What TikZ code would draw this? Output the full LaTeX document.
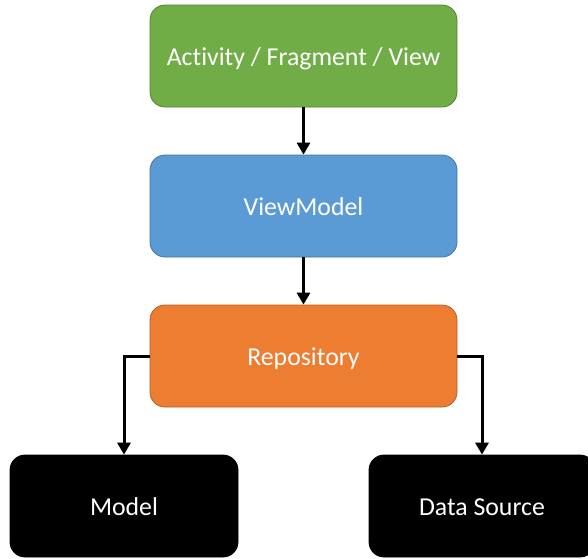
\documentclass[tikz,border=0pt]{standalone}
\usepackage{fontspec}
\setmainfont{Carlito}[Ligatures=NoCommon]
\definecolor{actgreen}{HTML}{70AD47}
\definecolor{vmblue}{HTML}{5B9BD5}
\definecolor{repoorange}{HTML}{ED7D31}
\tikzset{
    layer/.style={rounded corners=15pt, minimum width=307pt, minimum height=102pt,
        text=white, font=\fontsize{25.8}{30}\selectfont, line width=0.8pt,
        text height=19.4pt, text depth=0pt},
    leaf/.style={layer, fill=black, draw=black, minimum width=228pt},
    link/.style={line width=3pt, -{Triangle[length=12pt,width=13pt]}},
}
\usetikzlibrary{arrows.meta}
\begin{document}
\begin{tikzpicture}[x=1pt, y=-1pt]
\useasboundingbox (0,0) rectangle (588,558);
\node[layer, fill=actgreen, draw=actgreen!75!black] (act) at (303.5,56) {Activity / Fragment / View};
\node[layer, fill=vmblue, draw=vmblue!75!black] (vm) at (303.5,206) {ViewModel};
\node[layer, fill=repoorange, draw=repoorange!75!black] (repo) at (303.5,356) {Repository};
\node[leaf] (model) at (124,506) {Model};
\node[leaf, minimum width=226pt] (src) at (482,506) {Data Source};

\draw[link] (act) -- (vm);
\draw[link] (vm) -- (repo);
\draw[link] (repo.west) -| (model.north);
\draw[link] (repo.east) -| (src.north);
\end{tikzpicture}
\end{document}
